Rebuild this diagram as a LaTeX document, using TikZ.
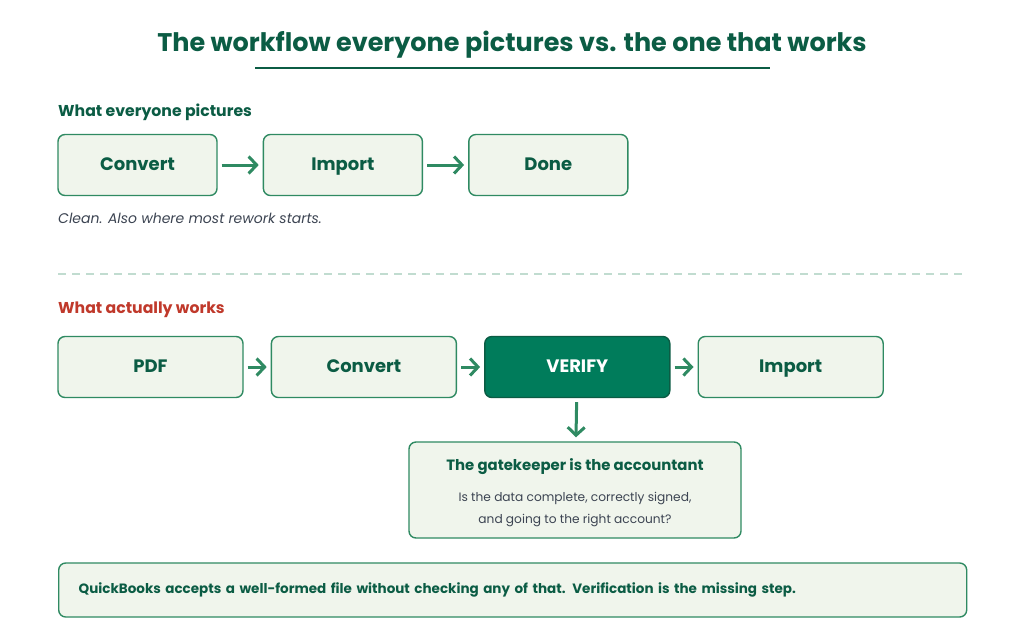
\documentclass[tikz,border=0pt]{standalone}
\usepackage{fontspec}
\setmainfont{Poppins}
\usetikzlibrary{positioning}
\usetikzlibrary{arrows.meta}
\definecolor{deepgreen}{HTML}{0B5C44}
\definecolor{boxline}{HTML}{2F8A62}
\definecolor{boxfill}{HTML}{F0F5EC}
\definecolor{verifyfill}{HTML}{007C5B}
\definecolor{redhead}{HTML}{C0392B}
\definecolor{notegray}{HTML}{3C4452}
\begin{document}
\begin{tikzpicture}[x=1pt,y=-1pt,node distance=27pt]
		\tikzset{stagebox/.style={draw=boxline,fill=boxfill,line width=1.4pt,rounded corners=7pt,
			minimum height=61pt,text=deepgreen,text height=13pt,text depth=3pt,
			font=\fontsize{18}{20}\selectfont\bfseries},
			flow/.style={-{Straight Barb[length=8pt,width=17pt]},draw=boxline,
			line width=3pt,shorten <=4pt,shorten >=4pt},
			heading/.style={anchor=west,inner sep=0pt,font=\fontsize{15.7}{18}\selectfont\bfseries}}
		\useasboundingbox (0,0) rectangle (1024,640);
		\fill[white] (0,0) rectangle (1024,640);
		
		\node[text=deepgreen,font=\fontsize{25.5}{30}\selectfont\bfseries] (title) at (512,45) {The workflow everyone pictures vs. the one that works};
		\draw[deepgreen,line width=2.8pt] (255,68) -- (770,68);
		
		\node[heading,text=deepgreen] (head1) at (58,112) {What everyone pictures};
		\node[stagebox,minimum width=159pt] (convA) at (137.5,165) {Convert};
		\node[stagebox,minimum width=159pt,right=45pt of convA] (impA) {Import};
		\node[stagebox,minimum width=159pt,right=45pt of impA] (doneA) {Done};
		\draw[flow] (convA) -- (impA);
		\draw[flow] (impA) -- (doneA);
		\node[anchor=west,inner sep=0pt,text=notegray,font=\fontsize{14}{16}\selectfont\itshape] (note) at (58,218) {Clean. Also where most rework starts.};
		
		\draw[boxline!30,line width=1.2pt,dash pattern=on 8pt off 6pt] (58,274) -- (966,274);
		
		\node[heading,text=redhead] (head2) at (58,310) {What actually works};
		\node[stagebox,minimum width=185pt] (pdf) at (150.5,367) {PDF};
		\node[stagebox,minimum width=185pt,right=of pdf] (convB) {Convert};
		\node[stagebox,minimum width=185pt,right=of convB,fill=verifyfill,draw=deepgreen,text=white] (verify) {VERIFY};
		\node[stagebox,minimum width=185pt,right=of verify] (impB) {Import};
		\draw[flow] (pdf) -- (convB);
		\draw[flow] (convB) -- (verify);
		\draw[flow] (verify) -- (impB);
		
		\node[draw=boxline,fill=boxfill,line width=1.4pt,rounded corners=7pt,minimum width=332pt,
			minimum height=96pt] (gate) at (575,490) {};
		\node[text=deepgreen,font=\fontsize{14.9}{18}\selectfont\bfseries] (gatehead) at (575,467) {The gatekeeper is the accountant};
		\node[text=notegray,align=center,font=\fontsize{12.2}{22}\selectfont] (gatetext) at (575,509) {Is the data complete, correctly signed,\\and going to the right account?};
		\draw[flow] (verify) -- (gate);
		
		\node[draw=boxline,fill=boxfill,line width=1.4pt,rounded corners=7pt,minimum width=908pt,
			minimum height=54pt,anchor=west,inner xsep=20pt,text width=868pt,text=deepgreen,
			font=\fontsize{13.5}{16}\selectfont\bfseries] (summary) at (58,590) {QuickBooks accepts a well-formed file without checking any of that. Verification is the missing step.};
\end{tikzpicture}
\end{document}
